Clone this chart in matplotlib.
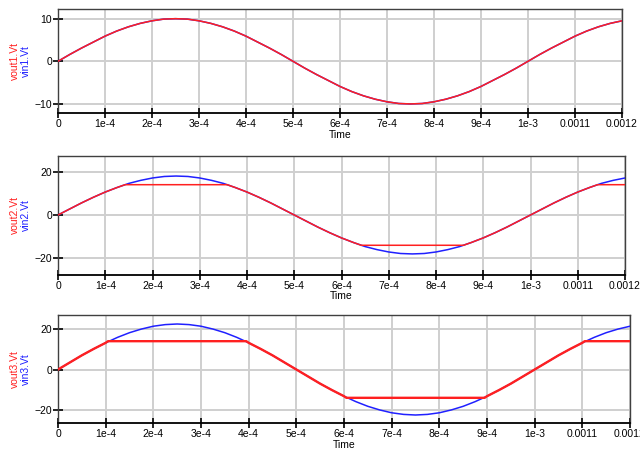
import matplotlib
matplotlib.use("Agg")
import matplotlib.pyplot as plt

# Sample times in microseconds (every 25 us from 0 to 1200 us)
time_us = [0, 25, 50, 75, 100, 125, 150, 175, 200, 225,
           250, 275, 300, 325, 350, 375, 400, 425, 450, 475,
           500, 525, 550, 575, 600, 625, 650, 675, 700, 725,
           750, 775, 800, 825, 850, 875, 900, 925, 950, 975,
           1000, 1025, 1050, 1075, 1100, 1125, 1150, 1175, 1200]

# Stage 1: input and output identical (no clipping)
vin1 = [0, 1.6, 3.1, 4.5, 5.9, 7.1, 8.1, 8.9, 9.5, 9.9,
        10.0, 9.9, 9.5, 8.9, 8.1, 7.1, 5.9, 4.5, 3.1, 1.6,
        0, -1.6, -3.1, -4.5, -5.9, -7.1, -8.1, -8.9, -9.5, -9.9,
        -10.0, -9.9, -9.5, -8.9, -8.1, -7.1, -5.9, -4.5, -3.1, -1.6,
        0, 1.6, 3.1, 4.5, 5.9, 7.1, 8.1, 8.9, 9.5]
vout1 = [0, 1.6, 3.1, 4.5, 5.9, 7.1, 8.1, 8.9, 9.5, 9.9,
         10.0, 9.9, 9.5, 8.9, 8.1, 7.1, 5.9, 4.5, 3.1, 1.6,
         0, -1.6, -3.1, -4.5, -5.9, -7.1, -8.1, -8.9, -9.5, -9.9,
         -10.0, -9.9, -9.5, -8.9, -8.1, -7.1, -5.9, -4.5, -3.1, -1.6,
         0, 1.6, 3.1, 4.5, 5.9, 7.1, 8.1, 8.9, 9.5]

# Stage 2: larger input, output limited near +/-14
vin2 = [0, 2.8, 5.6, 8.2, 10.6, 12.7, 14.6, 16.0, 17.1, 17.8,
        18.0, 17.8, 17.1, 16.0, 14.6, 12.7, 10.6, 8.2, 5.6, 2.8,
        0, -2.8, -5.6, -8.2, -10.6, -12.7, -14.6, -16.0, -17.1, -17.8,
        -18.0, -17.8, -17.1, -16.0, -14.6, -12.7, -10.6, -8.2, -5.6, -2.8,
        0, 2.8, 5.6, 8.2, 10.6, 12.7, 14.6, 16.0, 17.1]
vout2_us = [0, 25, 50, 75, 100, 125, 142, 358, 375, 400, 425, 450, 475,
            500, 525, 550, 575, 600, 625, 642, 858, 875, 900, 925, 950, 975,
            1000, 1025, 1050, 1075, 1100, 1125, 1142, 1200]
vout2 = [0, 2.8, 5.6, 8.2, 10.6, 12.7, 14.0, 14.0, 12.7, 10.6, 8.2, 5.6, 2.8,
         0, -2.8, -5.6, -8.2, -10.6, -12.7, -14.0, -14.0, -12.7, -10.6, -8.2, -5.6, -2.8,
         0, 2.8, 5.6, 8.2, 10.6, 12.7, 14.0, 14.0]

# Stage 3: input driven harder, output limited near +/-14
vin3 = [0, 3.5, 7.0, 10.2, 13.2, 15.9, 18.2, 20.0, 21.4, 22.2,
        22.5, 22.2, 21.4, 20.0, 18.2, 15.9, 13.2, 10.2, 7.0, 3.5,
        0, -3.5, -7.0, -10.2, -13.2, -15.9, -18.2, -20.0, -21.4, -22.2,
        -22.5, -22.2, -21.4, -20.0, -18.2, -15.9, -13.2, -10.2, -7.0, -3.5,
        0, 3.5, 7.0, 10.2, 13.2, 15.9, 18.2, 20.0, 21.4]
vout3_us = [0, 25, 50, 75, 100, 105, 395, 400, 425, 450, 475,
            500, 525, 550, 575, 600, 605, 895, 900, 925, 950, 975,
            1000, 1025, 1050, 1075, 1100, 1105, 1200]
vout3 = [0, 3.5, 7.0, 10.2, 13.2, 14.0, 14.0, 13.2, 10.2, 7.0, 3.5,
         0, -3.5, -7.0, -10.2, -13.2, -14.0, -14.0, -13.2, -10.2, -7.0, -3.5,
         0, 3.5, 7.0, 10.2, 13.2, 14.0, 14.0]

x_ticks = [0, 1e-4, 2e-4, 3e-4, 4e-4, 5e-4, 6e-4, 7e-4, 8e-4, 9e-4, 1e-3, 0.0011, 0.0012]
x_tick_labels = ["0", "1e-4", "2e-4", "3e-4", "4e-4", "5e-4", "6e-4", "7e-4",
                 "8e-4", "9e-4", "1e-3", "0.0011", "0.0012"]

RED = "#ff2020"
BLUE = "#2020ff"

plt.rcParams["font.family"] = ["Liberation Sans", "DejaVu Sans"]

fig = plt.figure(figsize=(6.4, 4.5), dpi=100)

panels = [
    dict(rect=[58 / 640, 1 - 113.3 / 450, 564 / 640, 104 / 450],
         t_in=time_us, vin=vin1, t_out=time_us, vout=vout1,
         ylim=(-12.2, 12.2), yticks=[-10, 0, 10],
         names=("vout1.Vt", "vin1.Vt"), out_lw=1.1),
    dict(rect=[58 / 640, 1 - 274.7 / 450, 567 / 640, 119 / 450],
         t_in=time_us, vin=vin2, t_out=vout2_us, vout=vout2,
         ylim=(-27.6, 27.4), yticks=[-20, 0, 20],
         names=("vout2.Vt", "vin2.Vt"), out_lw=1.1),
    dict(rect=[58 / 640, 1 - 423.3 / 450, 572 / 640, 108 / 450],
         t_in=time_us, vin=vin3, t_out=vout3_us, vout=vout3,
         ylim=(-26.6, 26.8), yticks=[-20, 0, 20],
         names=("vout3.Vt", "vin3.Vt"), out_lw=1.7),
]

for p in panels:
    ax = fig.add_axes(p["rect"])
    ax.plot([t * 1e-6 for t in p["t_in"]], p["vin"], color=BLUE, lw=1.1, zorder=3)
    ax.plot([t * 1e-6 for t in p["t_out"]], p["vout"], color=RED, lw=p["out_lw"],
            zorder=4)
    ax.set_xlim(0, 0.0012)
    ax.set_ylim(*p["ylim"])
    ax.set_xticks(x_ticks)
    ax.set_xticklabels(x_tick_labels)
    ax.set_yticks(p["yticks"])
    ax.grid(True, color="#cfcfcf", lw=1.4, zorder=0)
    ax.set_axisbelow(True)
    ax.tick_params(axis="both", direction="inout", length=7, width=1.2,
                   labelsize=7.5, colors="black", pad=0.8)
    for side in ("top", "right", "left"):
        ax.spines[side].set_color("#404040")
        ax.spines[side].set_linewidth(1.0)
    ax.spines["bottom"].set_color("black")
    ax.spines["bottom"].set_linewidth(1.3)
    ax.set_xlabel("Time", fontsize=7.5, labelpad=0.5)

    # two-colour y label: output in red, input in blue
    x0, y0, w, h = p["rect"]
    yc = y0 + h / 2
    fig.text(14.5 / 640, yc, p["names"][0], color=RED, rotation=90,
             ha="center", va="center", fontsize=7.5)
    fig.text(26 / 640, yc, p["names"][1], color=BLUE, rotation=90,
             ha="center", va="center", fontsize=7.5)

fig.savefig("out.png", dpi=100)
